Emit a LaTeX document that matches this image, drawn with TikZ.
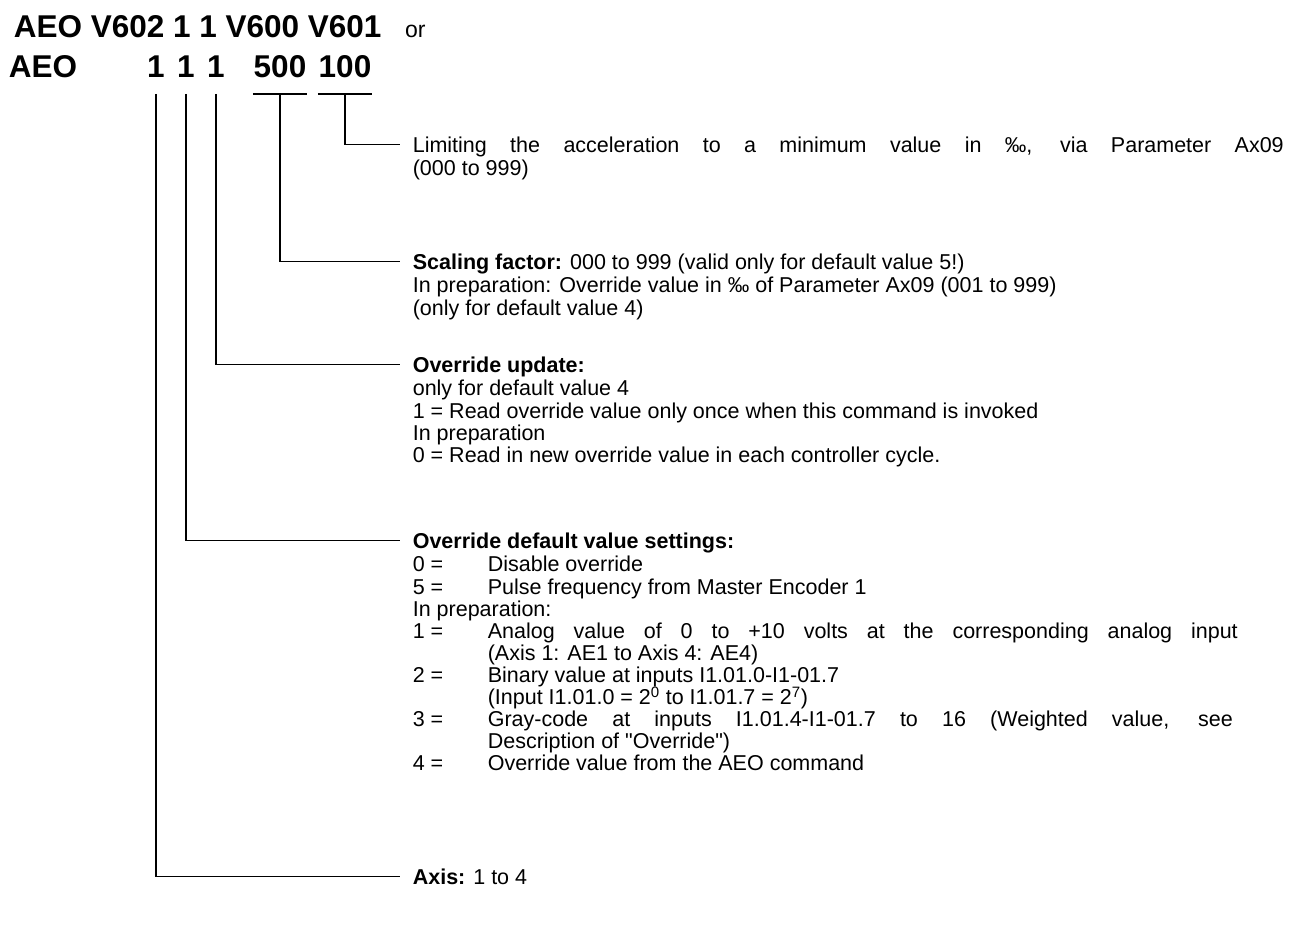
\documentclass[tikz,border=0pt]{standalone}
\usepackage{fontspec}
\setmainfont{Liberation Sans}[Ligatures=TeXOff]
\usetikzlibrary{positioning}

% value column of the tabbed lists
\newcommand{\itm}[2]{\makebox[75pt][l]{#1}#2}
\newcommand{\pw}[1]{\smash{\textsuperscript{#1}}}

\begin{document}
\begin{tikzpicture}[x=1pt, y=-1pt, line width=1.6pt,
  code/.style={font=\fontsize{31.5}{36}\selectfont\bfseries, inner sep=0pt, text depth=0pt, anchor=base},
  head/.style={font=\fontsize{21.5}{22}\selectfont, inner xsep=12pt, inner ysep=0pt, text height=15pt, text depth=0pt, anchor=base west, align=left},
  more/.style={font=\fontsize{21.5}{22}\selectfont, inner xsep=12pt, inner ysep=0pt, align=left, below right=6.6pt and 0pt of #1.south west}]
  \useasboundingbox (0,0) rectangle (1292,929);

  % command line
  \node[code, anchor=base west] (cmd) at (13,37) {AEO V602 1 1 V600 V601};
  \node[font=\fontsize{23}{24}\selectfont, inner sep=0pt, right=22pt of cmd.base east, anchor=base west] (or) {or};
  \node[code, anchor=base west] (aeo) at (8,77) {AEO};
  \node[code] (axis) at (156,77) {1};
  \node[code] (preset) at (186,77) {1};
  \node[code] (update) at (216,77) {1};
  \node[code] (scale) at (280,77) {500};
  \node[code] (minacc) at (345,77) {100};

  % descriptions
  \node[head] (minaccdesc) at (400,152) {\makebox[871pt][s]{Limiting the acceleration to a minimum value in ‰, via Parameter Ax09}};
  \node[more=minaccdesc] (minaccmore) {\strut(000 to 999)};

  \node[head] (scaledesc) at (400,269) {\textbf{Scaling factor:} 000 to 999 (valid only for default value 5!)};
  \node[more=scaledesc] (scalemore) {\strut In preparation: Override value in ‰ of Parameter Ax09 (001 to 999)\\
    (only for default value 4)};

  \node[head] (updatedesc) at (400,372) {\textbf{Override update:}};
  \node[more=updatedesc] (updatemore) {\strut only for default value 4\\
    1 = Read override value only once when this command is invoked\\
    In preparation\\
    0 = Read in new override value in each controller cycle.};

  \node[head] (presetdesc) at (400,548) {\textbf{Override default value settings:}};
  \node[more=presetdesc] (presetmore) {\strut\itm{0 =}{Disable override}\\
    \itm{5 =}{Pulse frequency from Master Encoder 1}\\
    In preparation:\\
    \itm{1 =}{\makebox[750pt][s]{Analog value of 0 to +10 volts at the corresponding analog input}}\\
    \itm{}{(Axis 1: AE1 to Axis 4: AE4)}\\
    \itm{2 =}{Binary value at inputs I1.01.0-I1-01.7}\\
    \itm{}{(Input I1.01.0 = 2\pw{0} to I1.01.7 = 2\pw{7})}\\
    \itm{3 =}{\makebox[745pt][s]{Gray-code at inputs I1.01.4-I1-01.7 to 16 (Weighted value, see}}\\
    \itm{}{Description of "Override")}\\
    \itm{4 =}{Override value from the AEO command}};

  \node[head] (axisdesc) at (400,884) {\textbf{Axis:} 1 to 4};

  % brackets and leaders
  \draw ([yshift=-16pt]scale.south west) -- ([yshift=-16pt]scale.south east);
  \draw ([yshift=-16pt]minacc.south west) -- ([yshift=-16pt]minacc.south east);
  \draw ([yshift=-16pt]minacc.south) |- (minaccdesc.west);
  \draw ([yshift=-16pt]scale.south) |- (scaledesc.west);
  \draw ([yshift=-16pt]update.south) |- (updatedesc.west);
  \draw ([yshift=-16pt]preset.south) |- (presetdesc.west);
  \draw ([yshift=-16pt]axis.south) |- (axisdesc.west);
\end{tikzpicture}
\end{document}
